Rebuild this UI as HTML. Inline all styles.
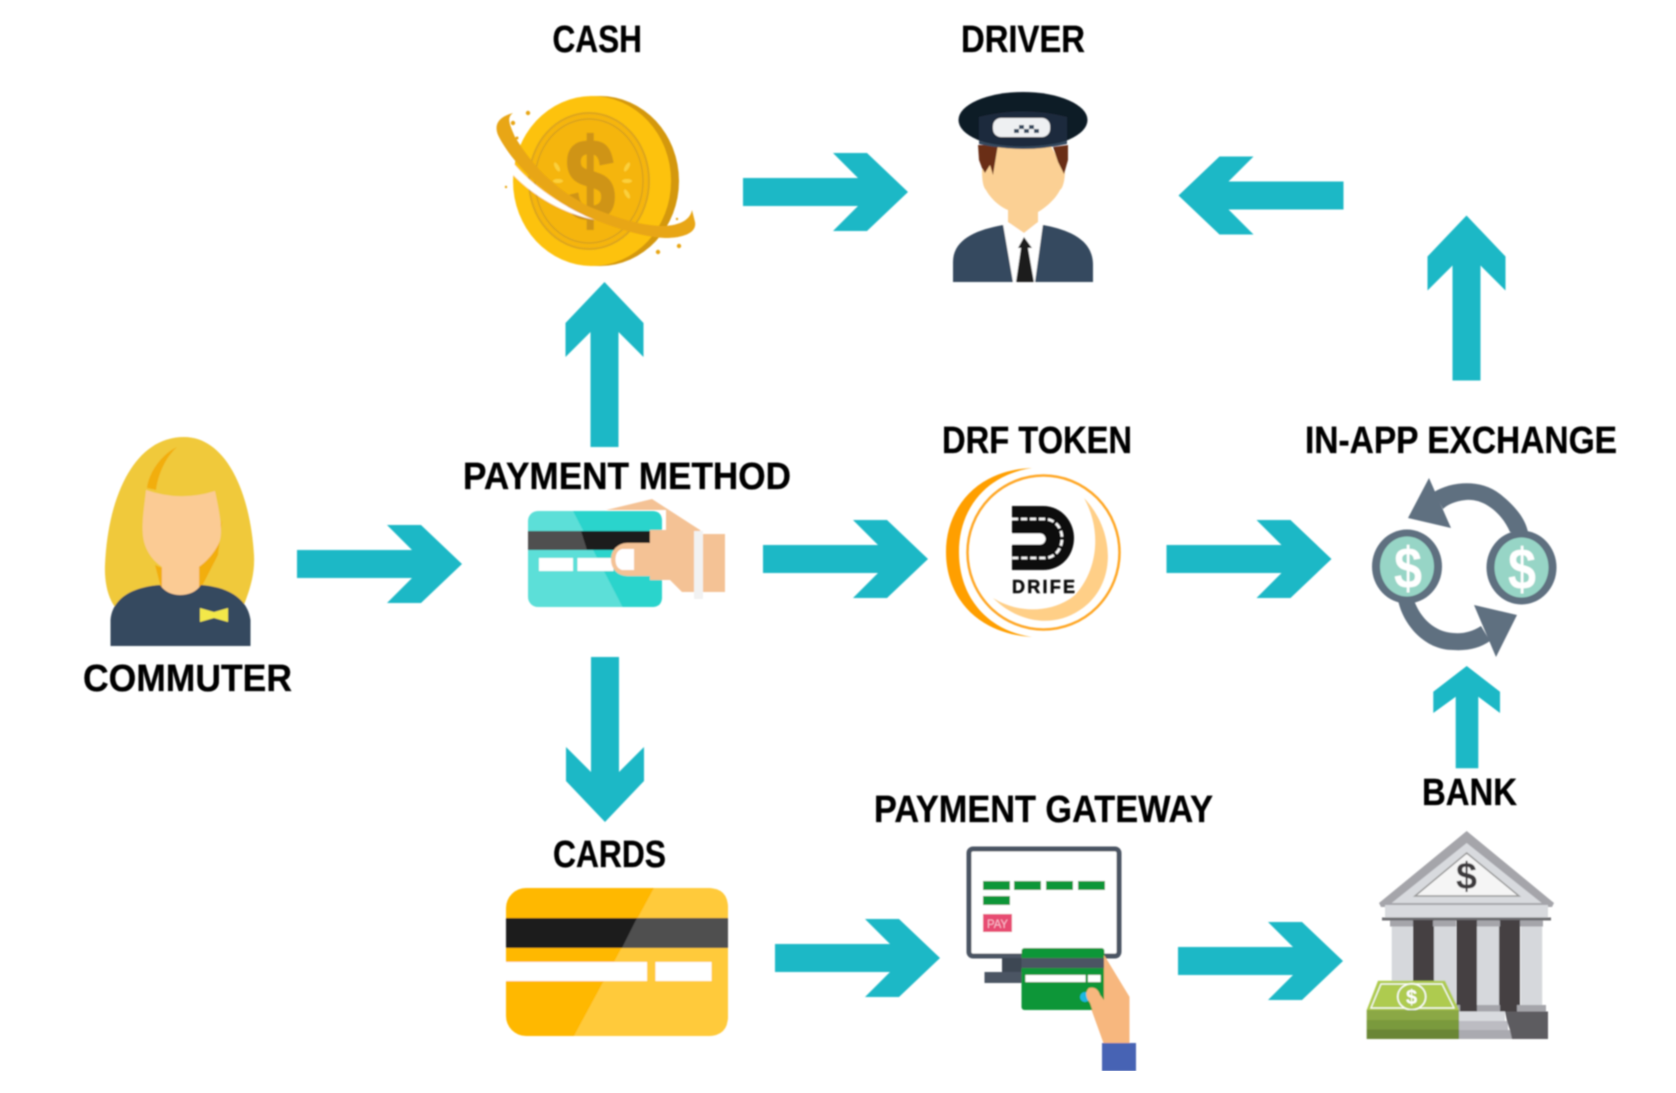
<!DOCTYPE html>
<html><head><meta charset="utf-8"><style>html,body{margin:0;padding:0;background:#fff;width:1676px;height:1093px;overflow:hidden}svg{display:block}
text{font-family:"Liberation Sans",sans-serif;font-weight:bold}</style></head><body>
<svg xmlns="http://www.w3.org/2000/svg" width="1676" height="1093" viewBox="0 0 1676 1093">
<defs><filter id="b" x="0" y="0" width="100%" height="100%"><feGaussianBlur stdDeviation="0.7"/></filter>
<polygon id="a" fill="#1ab8c6" points="0,-14 115,-14 90,-39 124,-39 165,0 124,39 90,39 115,14 0,14"/></defs>
<rect width="1676" height="1093" fill="#fff"/>
<g filter="url(#b)">
<!-- arrows -->
<use href="#a" transform="translate(297,564)"/>
<use href="#a" transform="translate(763,559)"/>
<use href="#a" transform="translate(1166.5,559)"/>
<use href="#a" transform="translate(743,192)"/>
<use href="#a" transform="translate(1343.5,195.5) rotate(180)"/>
<use href="#a" transform="translate(604.5,447) rotate(-90)"/>
<use href="#a" transform="translate(605,657) rotate(90)"/>
<use href="#a" transform="translate(1466.5,380.5) rotate(-90)"/>
<use href="#a" transform="translate(775,958)"/>
<use href="#a" transform="translate(1178,961)"/>
<polygon fill="#1ab8c6" points="1466.7,666 1500,691.7 1500,713 1478.3,696.7 1478.3,768.3 1455.7,768.3 1455.7,696.7 1433.3,713 1433.3,691.7"/>

<!-- labels -->
<g fill="#000" font-size="38" stroke="#000" stroke-width="0.3">
<text x="552.5" y="52" textLength="89.5" lengthAdjust="spacingAndGlyphs">CASH</text>
<text x="961" y="52" textLength="124" lengthAdjust="spacingAndGlyphs">DRIVER</text>
<text x="463" y="489" textLength="328" lengthAdjust="spacingAndGlyphs">PAYMENT METHOD</text>
<text x="83" y="691" textLength="209" lengthAdjust="spacingAndGlyphs">COMMUTER</text>
<text x="942" y="453" textLength="190" lengthAdjust="spacingAndGlyphs">DRF TOKEN</text>
<text x="1305" y="453" textLength="312" lengthAdjust="spacingAndGlyphs">IN-APP EXCHANGE</text>
<text x="553" y="867" textLength="113" lengthAdjust="spacingAndGlyphs">CARDS</text>
<text x="874" y="822" textLength="339" lengthAdjust="spacingAndGlyphs">PAYMENT GATEWAY</text>
<text x="1422" y="805" textLength="95" lengthAdjust="spacingAndGlyphs">BANK</text>
</g>

<!-- coin -->
<ellipse cx="600" cy="181" rx="79" ry="85" fill="#d4980f"/>
<ellipse cx="592" cy="181" rx="79" ry="85" fill="#fdc20c"/>
<ellipse cx="589" cy="181" rx="60" ry="68" fill="#f5b50c" stroke="#dda51a" stroke-width="2"/>
<ellipse cx="589" cy="181" rx="54" ry="62" fill="none" stroke="#d9a21c" stroke-width="1.5"/>
<g fill="#fbd03a"><ellipse cx="557" cy="167" rx="2" ry="5" transform="rotate(-30 557 167)"/><ellipse cx="558" cy="181" rx="5" ry="2"/><ellipse cx="558" cy="194" rx="2" ry="5" transform="rotate(-30 558 194)"/><ellipse cx="627" cy="167" rx="2" ry="5" transform="rotate(30 627 167)"/><ellipse cx="627" cy="181" rx="5" ry="2"/><ellipse cx="627" cy="194" rx="2" ry="5" transform="rotate(-30 627 194)"/></g>
<text x="565" y="220" font-size="115" fill="#cf9418" stroke="#cf9418" stroke-width="3" textLength="50" lengthAdjust="spacingAndGlyphs">$</text>
<path d="M505 160L513 173C535 195 565 212 597 219L590 218C550 200 520 175 505 152Z" fill="#fff"/>
<path d="M513 173C535 196 565 213 597 219" fill="none" stroke="#fff" stroke-width="2.5"/>
<path d="M513 113C498 117 494 125 498 135C510 160 545 198 590 218C620 230 645 237 665 238C685 238 697 232 695 222L692 210C690 220 680 225 665 226C640 226 615 217 590 207C560 192 535 170 515 137C510 125 506 118 513 113Z" fill="#e8a612"/>
<g fill="#e8a612"><circle cx="528" cy="113" r="2.2"/><circle cx="513" cy="123" r="2.2"/><circle cx="517" cy="138" r="1.5"/><circle cx="506" cy="187" r="1.2"/><circle cx="658" cy="252" r="2.2"/><circle cx="679" cy="246" r="2.2"/><circle cx="677" cy="219" r="1.2"/></g>

<!-- driver -->
<path d="M953 282V262C953 240 975 230 1003 225H1043C1070 230 1093 240 1093 265V282Z" fill="#36495f"/>
<polygon points="1003,224 1043,224 1035,282 1013,282" fill="#fff"/>
<path d="M995 145H1050L1065 170C1065 180 1063 188 1060 190C1055 200 1045 208 1038 212V222L1024 233L1008 222V210C1000 207 990 198 986 190C983 187 982 180 982 170Z" fill="#fbd094"/>
<polygon points="978,145 998,145 993,175 990,165 985,173 982,168 979,160" fill="#6b2f12"/>
<polygon points="1053,147 1068,145 1068,160 1064,174 1058,162" fill="#6b2f12"/>
<polygon points="1024,237 1032,248 1028,248 1034,282 1016,282 1021,248 1018,248" fill="#1a1a1a"/>
<ellipse cx="1023" cy="120" rx="64.5" ry="28" fill="#111a26"/>
<path d="M979 117Q1023 106 1067 117V141Q1023 152 979 141Z" fill="#1f2c3c"/>
<path d="M979 141Q1023 152 1067 141V144Q1023 154 979 144Z" fill="#36495f"/>
<rect x="993" y="118" width="57" height="19" rx="8" fill="#eef0f2"/>
<g fill="#36495f"><rect x="1014" y="129" width="5" height="4"/><rect x="1019" y="125" width="5" height="4"/><rect x="1024" y="129" width="5" height="4"/><rect x="1029" y="125" width="5" height="4"/><rect x="1034" y="129" width="5" height="4"/></g>

<!-- commuter -->
<path d="M184 437C135 437 108 495 105 565C104 590 112 610 125 615L240 615C250 590 255 575 254 555C250 490 225 437 184 437Z" fill="#f0c93a"/>
<path d="M177 447C160 455 148 475 147 488L156 490C158 475 165 458 177 447Z" fill="#f2ae0a"/>
<path d="M155 565L162 592H199L218 555L222 520Q212 560 180 575Z" fill="#f2ae0a"/>
<rect x="162" y="560" width="37" height="40" fill="#fbcb94"/>
<path d="M146 490Q180 502 215 491C220 515 224 535 218 545C210 560 195 573 182 573C165 573 150 560 145 545C140 530 144 510 146 490Z" fill="#fbcb94"/>
<path d="M110.5 646V620C112 600 130 587 160 585C165 592 172 595 180 595C189 595 196 592 201 585C230 587 248 600 250.500 620V646Z" fill="#36495f"/>
<path d="M200 608L214 612L228 608V622L214 618L200 622Z" fill="#f3e84a"/>

<!-- pm card -->
<path d="M606 510L652 499L700 530L703 534H725V592H682L666 576V510Z" fill="#f4c295"/>
<rect x="528" y="511" width="134" height="96" rx="10" fill="#5cdfd8"/>
<path d="M573 511H652Q662 511 662 521V597Q662 607 652 607H622.500Z" fill="#2bd4cc"/>
<rect x="528" y="531" width="134" height="19" fill="#505050"/>
<polygon points="581,531 662,531 662,550 587,550" fill="#1a1a1a"/>
<rect x="539" y="558" width="34" height="13" fill="#fff"/><rect x="577.500" y="558" width="36" height="13" fill="#fff"/>
<rect x="611" y="543" width="70" height="33" rx="16" fill="#f4c295"/>
<rect x="650" y="530" width="45" height="50" fill="#f4c295"/>
<path d="M634 549H622Q615.500 551 615.500 559.500Q615.500 568 622 570H634Z" fill="#fff"/>
<rect x="694" y="531" width="9" height="68" fill="#f2f2f2"/>

<!-- token -->
<path d="M1032 468C975 470 946 510 946 552C946 598 978 634 1032 637C985 630 959 595 959 552C959 510 985 475 1032 468Z" fill="#ff9f00"/>
<ellipse cx="1043.500" cy="552.500" rx="76" ry="77" fill="none" stroke="#ffa726" stroke-width="2.500"/>
<path d="M1084 498C1115 530 1118 585 1080 610C1050 630 1015 620 993 598C1020 615 1055 612 1075 595C1098 570 1102 530 1084 498Z" fill="#ffcf87"/>
<path d="M1012 506H1043C1062 506 1074 522 1074 538C1074 555 1062 570 1043 570H1012Z" fill="#111"/>
<path d="M1012 519H1044C1056 519 1062 529 1062 538C1062 548 1056 558 1044 558H1012" fill="none" stroke="#fff" stroke-width="2.500" stroke-dasharray="6 3"/>
<path d="M1012 539H1040" stroke="#fff" stroke-width="11" stroke-linecap="round"/>
<text x="1012" y="593" font-size="18" fill="#111" stroke="#111" stroke-width="0.5" textLength="63">DRIFE</text>

<!-- exchange -->
<g fill="#5e7080">
<path d="M1434 492C1450 482 1480 478 1500 494C1515 506 1525 518 1528 532L1510 532C1503 515 1485 498 1466 500C1455 501 1447 505 1443 509Z"/>
<polygon points="1429,478 1408,518 1451,528"/>
<path d="M1398 600C1403 625 1425 650 1453 650C1468 651 1480 648 1490 641L1481 626C1472 632 1462 634 1453 633C1435 632 1420 618 1414 600Z"/>
<polygon points="1496,657 1517,615 1474,605"/>
<ellipse cx="1407" cy="566.500" rx="35" ry="37"/><ellipse cx="1521.500" cy="567.500" rx="35" ry="37"/>
</g>
<ellipse cx="1407" cy="566.500" rx="27" ry="30" fill="#97d5c6"/><ellipse cx="1521.500" cy="567.500" rx="27" ry="30" fill="#97d5c6"/>
<text x="1394" y="588" font-size="58" fill="#fff" textLength="28" lengthAdjust="spacingAndGlyphs">$</text>
<text x="1508" y="589" font-size="58" fill="#fff" textLength="28" lengthAdjust="spacingAndGlyphs">$</text>

<!-- cards -->
<rect x="506" y="888" width="222" height="148" rx="20" fill="#ffb800"/>
<path d="M654 888H708Q728 888 728 908V1016Q728 1036 708 1036H574Z" fill="#ffca3a"/>
<rect x="506" y="918" width="222" height="30" fill="#1a1a1a"/>
<polygon points="637,918 728,918 728,948 622,948" fill="#505050"/>
<rect x="506" y="962" width="141" height="19" fill="#fff"/><rect x="655.500" y="962" width="56" height="19" fill="#fff"/>

<!-- gateway -->
<rect x="969" y="849" width="150" height="107" rx="4" fill="#fff" stroke="#4b5563" stroke-width="5"/>
<g fill="#0b9639"><rect x="983" y="881" width="27" height="9"/><rect x="1014" y="881" width="27" height="9"/><rect x="1046" y="881" width="27" height="9"/><rect x="1078" y="881" width="27" height="9"/><rect x="983" y="896" width="27" height="9"/></g>
<rect x="983" y="914" width="29" height="18" fill="#e74c72"/>
<text x="987" y="928" font-size="12" fill="#f9c0cf" textLength="21" lengthAdjust="spacingAndGlyphs" style="font-weight:normal">PAY</text>
<rect x="1002" y="958" width="20" height="15" fill="#3e4753"/><rect x="984.500" y="972" width="38" height="11" fill="#4b5563"/>
<path d="M1104 955L1129.500 997V1043H1103.500L1089 1003Z" fill="#f7b77e"/>
<rect x="1021.500" y="948" width="83" height="62" rx="3" fill="#0b9639"/>
<rect x="1021.500" y="958" width="83" height="10" fill="#4b5563"/>
<rect x="1025.500" y="975" width="60" height="7" fill="#fff"/><rect x="1088" y="975" width="12.500" height="7" fill="#fff"/>
<circle cx="1085" cy="997" r="5" fill="#1ab8e0"/>
<path d="M1104 955L1129.500 997V1043H1103.500L1090 1003Q1083 994 1089 988Q1097 986 1100 995L1104 1000Z" fill="#f7b77e"/>
<rect x="1102" y="1043" width="34" height="28" fill="#4664b4"/>

<!-- bank -->
<polygon points="1466.700,831 1554,903 1552,907 1381,907 1379,903" fill="#a5a5aa"/>
<polygon points="1466.700,843 1541.700,903 1391.700,903" fill="#d8dade"/>
<polygon points="1466.700,853 1519,896 1415,896" fill="#f5f5f5" stroke="#999" stroke-width="1.500"/>
<text x="1456" y="889" font-size="38" fill="#3d3b3c" textLength="21" lengthAdjust="spacingAndGlyphs">$</text>
<rect x="1385" y="905" width="163" height="13" fill="#d8dade"/>
<rect x="1382" y="917.500" width="169" height="3" fill="#6e6e72"/>
<g fill="#444142"><rect x="1413" y="920" width="21" height="92"/><rect x="1456.500" y="920" width="20.500" height="92"/><rect x="1499" y="920" width="21" height="92"/></g>
<g fill="#d6d8dc"><rect x="1391.700" y="926" width="21" height="80"/><rect x="1434" y="926" width="22" height="80"/><rect x="1477" y="926" width="22" height="80"/><rect x="1520.700" y="926" width="21.500" height="80"/></g>
<g fill="#a5a5aa"><rect x="1390" y="920.500" width="23" height="6"/><rect x="1433" y="920.500" width="23" height="6"/><rect x="1477" y="920.500" width="23" height="6"/><rect x="1520" y="920.500" width="23" height="6"/><rect x="1390" y="1005" width="70" height="7"/><rect x="1477" y="1005" width="23" height="7"/><rect x="1517" y="1005" width="29" height="7"/></g>
<rect x="1459" y="1011.500" width="46" height="9.500" fill="#d8dade"/><rect x="1459" y="1021" width="49" height="9" fill="#bcbcc2"/><rect x="1459" y="1030" width="53" height="9" fill="#aaaab0"/>
<polygon points="1505,1011.500 1548,1011.500 1548,1039 1512,1039 1510,1030 1507,1021" fill="#5d5c60"/>
<polygon points="1378,980.700 1445,980.700 1459,1010 1366.700,1010" fill="#aecb4f"/>
<polygon points="1381,984 1442,984 1454,1008 1371,1008" fill="none" stroke="#fff" stroke-width="1.200"/>
<ellipse cx="1411.700" cy="996.700" rx="14" ry="13" fill="#aecb4f" stroke="#fff" stroke-width="1.500"/>
<text x="1406" y="1004" font-size="20" fill="#fff">$</text>
<rect x="1366.700" y="1010" width="92.300" height="10" fill="#8ba845"/><rect x="1366.700" y="1020" width="92.300" height="9.500" fill="#7a9a3e"/><rect x="1366.700" y="1029.500" width="92.300" height="9.500" fill="#6a8636"/>
</g>
</svg>
</body></html>
